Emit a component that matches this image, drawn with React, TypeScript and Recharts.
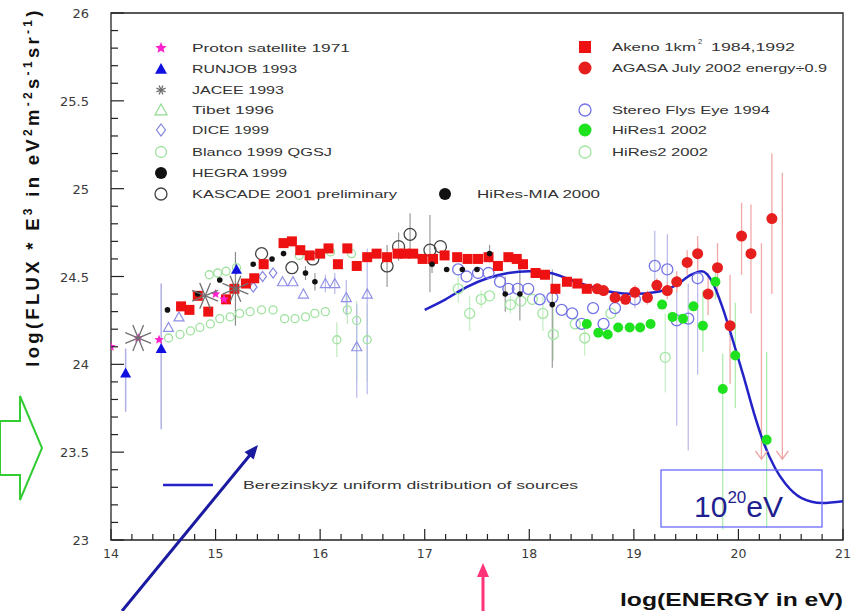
import React from 'react';
import { ComposedChart, Scatter, Line, XAxis, YAxis, ErrorBar, ReferenceArea } from 'recharts';

type Pt = { x: number; y: number; err?: [number, number] };

// Axis ticks (major ticks are labelled)
const xTicks = [14, 14.2, 14.4, 14.6, 14.8, 15, 15.2, 15.4, 15.6, 15.8, 16, 16.2, 16.4, 16.6, 16.8, 17, 17.2, 17.4, 17.6, 17.8, 18, 18.2, 18.4, 18.6, 18.8, 19, 19.2, 19.4, 19.6, 19.8, 20, 20.2, 20.4, 20.6, 20.8, 21];
const yTicks = [23, 23.1, 23.2, 23.3, 23.4, 23.5, 23.6, 23.7, 23.8, 23.9, 24, 24.1, 24.2, 24.3, 24.4, 24.5, 24.6, 24.7, 24.8, 24.9, 25, 25.1, 25.2, 25.3, 25.4, 25.5, 25.6, 25.7, 25.8, 25.9, 26];

// Measurements: log10(E/eV) vs log10(flux * E^3)
const proton: Pt[] = [
  { x: 14.0, y: 24.1 }, { x: 14.26, y: 24.15 }, { x: 14.46, y: 24.14 }, { x: 15.0, y: 24.4 }, { x: 15.08, y: 24.37 },
];
const runjob: Pt[] = [
  { x: 14.14, y: 23.95, err: [0.22, 0.14] }, { x: 14.48, y: 24.09, err: [0.46, 0.37] }, { x: 15.2, y: 24.54, err: [0.03, 0.03] },
];
const jacee: Pt[] = [
  { x: 14.26, y: 24.15 }, { x: 14.9, y: 24.39 }, { x: 15.19, y: 24.43, err: [0.21, 0.21] },
];
const tibet: Pt[] = [
  { x: 14.55, y: 24.21 }, { x: 14.65, y: 24.27 }, { x: 15.64, y: 24.47 }, { x: 15.74, y: 24.47 }, { x: 15.84, y: 24.4 },
  { x: 16.05, y: 24.46, err: [0.05, 0.05] }, { x: 16.14, y: 24.46, err: [0.06, 0.06] }, { x: 16.25, y: 24.38, err: [0.1, 0.1] },
  { x: 16.35, y: 24.1, err: [0.29, 0.24] }, { x: 16.45, y: 24.4, err: [0.57, 0.26] },
];
const dice: Pt[] = [
  { x: 15.36, y: 24.44 }, { x: 15.45, y: 24.5 }, { x: 15.55, y: 24.52 },
];
const blanco: Pt[] = [
  { x: 14.55, y: 24.15 }, { x: 14.66, y: 24.17 }, { x: 14.76, y: 24.19 }, { x: 14.85, y: 24.21 }, { x: 14.95, y: 24.23 },
  { x: 15.04, y: 24.26 }, { x: 15.14, y: 24.27 }, { x: 15.23, y: 24.29 }, { x: 15.33, y: 24.3 }, { x: 15.44, y: 24.31 },
  { x: 15.55, y: 24.31 }, { x: 15.66, y: 24.26 }, { x: 15.76, y: 24.26 }, { x: 15.86, y: 24.27 }, { x: 15.95, y: 24.29 },
  { x: 16.05, y: 24.3 }, { x: 16.16, y: 24.14, err: [0.1, 0.1] }, { x: 16.26, y: 24.31, err: [0.08, 0.08] },
  { x: 16.35, y: 24.25, err: [0.35, 0.11] }, { x: 16.45, y: 24.14, err: [0.24, 0.2] },
  { x: 14.94, y: 24.51 }, { x: 15.02, y: 24.52 }, { x: 15.1, y: 24.53 }, { x: 15.2, y: 24.55 },
  { x: 15.8, y: 24.62 }, { x: 16.1, y: 24.64 }, { x: 16.3, y: 24.63 },
];
const hegra: Pt[] = [
  { x: 14.54, y: 24.31 }, { x: 14.83, y: 24.4 }, { x: 15.04, y: 24.48 }, { x: 15.36, y: 24.57 }, { x: 15.54, y: 24.6 },
  { x: 15.65, y: 24.63 }, { x: 15.86, y: 24.52, err: [0.04, 0.04] }, { x: 15.95, y: 24.47, err: [0.05, 0.05] },
];
const kascade: Pt[] = [
  { x: 15.44, y: 24.63 }, { x: 15.73, y: 24.55 }, { x: 15.93, y: 24.6 }, { x: 16.64, y: 24.56, err: [0.12, 0.12] },
  { x: 16.75, y: 24.67, err: [0.08, 0.08] }, { x: 16.86, y: 24.74, err: [0.1, 0.12] }, { x: 17.05, y: 24.65, err: [0.24, 0.2] },
  { x: 17.15, y: 24.67 },
];
const hiresMia: Pt[] = [
  { x: 17.07, y: 24.57, err: [0.05, 0.05] }, { x: 17.21, y: 24.54 }, { x: 17.36, y: 24.54 }, { x: 17.5, y: 24.54 },
  { x: 17.62, y: 24.63, err: [0.05, 0.05] }, { x: 17.77, y: 24.4, err: [0.1, 0.1] }, { x: 17.91, y: 24.4, err: [0.15, 0.15] },
  { x: 18.22, y: 24.34, err: [0.36, 0.2] },
];
const akeno: Pt[] = [
  { x: 14.67, y: 24.33 }, { x: 14.75, y: 24.31 }, { x: 14.83, y: 24.39 }, { x: 14.93, y: 24.3 }, { x: 15.1, y: 24.37 },
  { x: 15.18, y: 24.43 }, { x: 15.29, y: 24.46 }, { x: 15.37, y: 24.49 }, { x: 15.46, y: 24.57 }, { x: 15.65, y: 24.69 },
  { x: 15.73, y: 24.7 }, { x: 15.81, y: 24.65 }, { x: 15.9, y: 24.62 }, { x: 16.0, y: 24.63 }, { x: 16.08, y: 24.66 },
  { x: 16.17, y: 24.57 }, { x: 16.26, y: 24.66 }, { x: 16.35, y: 24.56 }, { x: 16.45, y: 24.61 }, { x: 16.54, y: 24.63 },
  { x: 16.64, y: 24.61 }, { x: 16.74, y: 24.63 }, { x: 16.81, y: 24.63 }, { x: 16.89, y: 24.63 }, { x: 16.98, y: 24.6 },
  { x: 17.08, y: 24.6 }, { x: 17.19, y: 24.62 }, { x: 17.31, y: 24.61 }, { x: 17.41, y: 24.6 }, { x: 17.51, y: 24.6 },
  { x: 17.61, y: 24.61 }, { x: 17.7, y: 24.56 }, { x: 17.8, y: 24.61 }, { x: 17.88, y: 24.6 }, { x: 17.94, y: 24.57 },
  { x: 18.06, y: 24.52 }, { x: 18.15, y: 24.51 }, { x: 18.25, y: 24.43 }, { x: 18.36, y: 24.47 }, { x: 18.46, y: 24.46 },
  { x: 18.55, y: 24.43 },
];
const agasa: Pt[] = [
  { x: 18.65, y: 24.43, err: [0.03, 0.03] }, { x: 18.71, y: 24.42, err: [0.03, 0.03] }, { x: 18.82, y: 24.38, err: [0.03, 0.03] },
  { x: 18.92, y: 24.37, err: [0.03, 0.03] }, { x: 19.01, y: 24.41, err: [0.04, 0.04] }, { x: 19.13, y: 24.38, err: [0.04, 0.04] },
  { x: 19.22, y: 24.45, err: [0.04, 0.04] }, { x: 19.32, y: 24.42, err: [0.05, 0.05] }, { x: 19.41, y: 24.47, err: [0.06, 0.06] },
  { x: 19.51, y: 24.58, err: [0.07, 0.07] }, { x: 19.61, y: 24.63, err: [0.1, 0.1] }, { x: 19.71, y: 24.4, err: [0.12, 0.12] },
  { x: 19.8, y: 24.55, err: [0.17, 0.14] }, { x: 19.92, y: 24.22, err: [0.33, 0.29] }, { x: 20.03, y: 24.73, err: [0.22, 0.19] },
  { x: 20.12, y: 24.63, err: [0.34, 0.28] }, { x: 20.32, y: 24.83, err: [0.43, 0.37] },
];
// AGASA upper limits: point at the arrow tip, bar up to the limit
const agasaLimits: Pt[] = [
  { x: 20.22, y: 23.46, err: [0, 1.23] }, { x: 20.42, y: 23.46, err: [0, 1.63] },
];
const stereo: Pt[] = [
  { x: 17.32, y: 24.54 }, { x: 17.4, y: 24.5 }, { x: 17.51, y: 24.52 }, { x: 17.61, y: 24.52 }, { x: 17.72, y: 24.47 },
  { x: 17.8, y: 24.43 }, { x: 17.89, y: 24.43 }, { x: 17.99, y: 24.43 }, { x: 18.1, y: 24.37 }, { x: 18.22, y: 24.38 },
  { x: 18.31, y: 24.31 }, { x: 18.41, y: 24.29 }, { x: 18.5, y: 24.23 }, { x: 18.61, y: 24.32 }, { x: 18.71, y: 24.23 },
  { x: 18.82, y: 24.32 }, { x: 19.01, y: 24.37, err: [0.05, 0.05] }, { x: 19.2, y: 24.56, err: [0.15, 0.2] },
  { x: 19.32, y: 24.54, err: [0.15, 0.2] }, { x: 19.41, y: 24.25, err: [0.6, 0.25] }, { x: 19.52, y: 24.26, err: [0.75, 0.2] },
  { x: 19.61, y: 24.49, err: [0.55, 0.2] },
];
const hires1: Pt[] = [
  { x: 18.55, y: 24.23 }, { x: 18.66, y: 24.18 }, { x: 18.75, y: 24.17 }, { x: 18.85, y: 24.21 }, { x: 18.96, y: 24.21 },
  { x: 19.06, y: 24.21 }, { x: 19.16, y: 24.23 }, { x: 19.27, y: 24.34 }, { x: 19.37, y: 24.27 }, { x: 19.47, y: 24.26 },
  { x: 19.57, y: 24.33 }, { x: 19.66, y: 24.22, err: [0.15, 0.2] }, { x: 19.78, y: 24.47, err: [0.1, 0.1] },
  { x: 19.85, y: 23.86, err: [0.8, 0.2] }, { x: 19.97, y: 24.05, err: [0.3, 0.3] }, { x: 20.27, y: 23.57, err: [0.5, 0.5] },
];
const hires2: Pt[] = [
  { x: 17.32, y: 24.43, err: [0.08, 0.08] }, { x: 17.43, y: 24.29, err: [0.1, 0.1] }, { x: 17.54, y: 24.37, err: [0.05, 0.05] },
  { x: 17.62, y: 24.39 }, { x: 17.82, y: 24.34, err: [0.05, 0.05] }, { x: 17.92, y: 24.36 }, { x: 18.03, y: 24.37 },
  { x: 18.13, y: 24.29, err: [0.1, 0.1] }, { x: 18.23, y: 24.17, err: [0.15, 0.15] }, { x: 18.44, y: 24.23 },
  { x: 18.53, y: 24.15, err: [0.1, 0.1] }, { x: 18.78, y: 24.29 }, { x: 19.3, y: 24.04, err: [0.2, 0.25] },
];
// Berezinsky uniform-source model
const berezinsky: Pt[] = [
  { x: 17.0, y: 24.31 }, { x: 17.2, y: 24.37 }, { x: 17.4, y: 24.44 }, { x: 17.6, y: 24.49 }, { x: 17.8, y: 24.52 },
  { x: 18.0, y: 24.53 }, { x: 18.2, y: 24.52 }, { x: 18.4, y: 24.48 }, { x: 18.6, y: 24.44 }, { x: 18.8, y: 24.41 },
  { x: 19.0, y: 24.4 }, { x: 19.2, y: 24.41 }, { x: 19.4, y: 24.45 }, { x: 19.55, y: 24.51 }, { x: 19.65, y: 24.53 },
  { x: 19.75, y: 24.47 }, { x: 19.85, y: 24.32 }, { x: 19.95, y: 24.13 }, { x: 20.05, y: 23.93 }, { x: 20.15, y: 23.72 },
  { x: 20.25, y: 23.54 }, { x: 20.35, y: 23.41 }, { x: 20.45, y: 23.32 }, { x: 20.6, y: 23.24 }, { x: 20.8, y: 23.21 },
  { x: 21.0, y: 23.22 },
];

const C = {
  proton: '#ff22cc', runjob: '#1010e0', jacee: '#707070', tibet: '#8f8fe6', tibetKey: '#8fdc8f', dice: '#8080e0',
  blanco: '#9fe29f', hegra: '#111111', kascade: '#444444', mia: '#111111', akeno: '#ee1111', agasa: '#e61e1e',
  stereo: '#7373e6', hires1: '#1ee21e', hires2: '#a2e6a2', model: '#2323c8',
};

// Plot frame in page pixels
const FRAME = { left: 111, bottom: 540 };

type Kind = 'square' | 'dot' | 'ring' | 'tri' | 'otri' | 'diamond' | 'star' | 'aster' | 'vhead';

function Marker({ kind, cx, cy, s, color }: { kind: Kind; cx: number; cy: number; s: number; color: string }) {
  if (cx == null || cy == null || isNaN(cx) || isNaN(cy)) return null;
  switch (kind) {
    case 'square':
      return <rect x={cx - s} y={cy - s} width={2 * s} height={2 * s} fill={color} />;
    case 'dot':
      return <circle cx={cx} cy={cy} r={s} fill={color} />;
    case 'ring':
      return <circle cx={cx} cy={cy} r={s} fill="none" stroke={color} strokeWidth={1.3} />;
    case 'tri':
      return <polygon points={`${cx},${cy - s} ${cx - s},${cy + s * 0.8} ${cx + s},${cy + s * 0.8}`} fill={color} />;
    case 'otri':
      return <polygon points={`${cx},${cy - s} ${cx - s},${cy + s * 0.8} ${cx + s},${cy + s * 0.8}`} fill="none" stroke={color} strokeWidth={1.2} />;
    case 'diamond':
      return <polygon points={`${cx},${cy - s} ${cx + s * 0.75},${cy} ${cx},${cy + s} ${cx - s * 0.75},${cy}`} fill="none" stroke={color} strokeWidth={1.2} />;
    case 'star': {
      const pts: string[] = [];
      for (let i = 0; i < 10; i++) {
        const r = i % 2 === 0 ? s : s * 0.45;
        const a = -Math.PI / 2 + (i * Math.PI) / 5;
        pts.push(`${cx + r * Math.cos(a)},${cy + r * Math.sin(a)}`);
      }
      return <polygon points={pts.join(' ')} fill={color} />;
    }
    case 'aster': {
      const lines = [];
      for (let i = 0; i < 4; i++) {
        const a = (i * Math.PI) / 4 + Math.PI / 8;
        lines.push(
          <line key={i} x1={cx - s * Math.cos(a)} y1={cy - s * Math.sin(a)} x2={cx + s * Math.cos(a)} y2={cy + s * Math.sin(a)} stroke={color} strokeWidth={1.3} />,
        );
      }
      return <g>{lines}</g>;
    }
    case 'vhead':
      return <polyline points={`${cx - s},${cy - s * 1.4} ${cx},${cy} ${cx + s},${cy - s * 1.4}`} fill="none" stroke={color} strokeWidth={1.3} />;
  }
  return null;
}

const shape = (kind: Kind, s: number, color: string) => (p: any) => <Marker kind={kind} cx={p.cx} cy={p.cy} s={s} color={color} />;

// Ticks point into the frame; only major ticks carry a label
const XTick = (p: any) => {
  const v = p.payload.value as number;
  const major = Math.abs(v - Math.round(v)) < 1e-6;
  const y0 = FRAME.bottom;
  return (
    <g>
      <line x1={p.x} x2={p.x} y1={y0} y2={y0 - (major ? 11 : 6)} stroke="#222" strokeWidth={1.2} />
      {major && (
        <text x={p.x} y={y0 + 18} textAnchor="middle" fontFamily="DejaVu Sans" fontSize={12.5} fill="#3a3a3a">
          {String(v)}
        </text>
      )}
    </g>
  );
};

const YTick = (p: any) => {
  const v = p.payload.value as number;
  const major = Math.abs(v * 2 - Math.round(v * 2)) < 1e-6;
  const x0 = FRAME.left;
  return (
    <g>
      <line x1={x0} x2={x0 + (major ? 13 : 7)} y1={p.y} y2={p.y} stroke="#222" strokeWidth={1.2} />
      {major && (
        <text x={89} y={p.y + 5} textAnchor="end" fontFamily="DejaVu Sans" fontSize={13} fill="#3a3a3a">
          {String(v)}
        </text>
      )}
    </g>
  );
};

const legendFont = { fontFamily: 'Liberation Sans', fontSize: 11.5, fill: '#333' } as const;

const leftKeys: { kind: Kind; s: number; color: string; label: string; w: number; y: number }[] = [
  { kind: 'star', s: 6, color: C.proton, label: 'Proton satellite 1971', w: 158, y: 48 },
  { kind: 'tri', s: 6, color: C.runjob, label: 'RUNJOB 1993', w: 105, y: 69 },
  { kind: 'aster', s: 5, color: C.jacee, label: 'JACEE 1993', w: 92, y: 90 },
  { kind: 'otri', s: 6, color: C.tibetKey, label: 'Tibet 1996', w: 82, y: 110 },
  { kind: 'diamond', s: 6, color: C.dice, label: 'DICE 1999', w: 77, y: 130 },
  { kind: 'ring', s: 5.5, color: C.blanco, label: 'Blanco 1999 QGSJ', w: 140, y: 152 },
  { kind: 'dot', s: 6, color: C.hegra, label: 'HEGRA 1999', w: 95, y: 173 },
  { kind: 'ring', s: 6, color: C.kascade, label: 'KASCADE 2001 preliminary', w: 205, y: 194 },
];
const rightKeys: { kind: Kind; s: number; color: string; label: string; w: number; y: number }[] = [
  { kind: 'dot', s: 6.5, color: C.agasa, label: 'AGASA July 2002 energy÷0.9', w: 215, y: 68 },
  { kind: 'ring', s: 6, color: C.stereo, label: 'Stereo Flys Eye 1994', w: 158, y: 110 },
  { kind: 'dot', s: 6.5, color: C.hires1, label: 'HiRes1 2002', w: 95, y: 130 },
  { kind: 'ring', s: 6, color: C.hires2, label: 'HiRes2 2002', w: 96, y: 152 },
];

function Overlay() {
  return (
    <svg width={852} height={611} style={{ position: 'absolute', left: 0, top: 0, pointerEvents: 'none' }}>
      {leftKeys.map((k) => (
        <g key={k.label}>
          <Marker kind={k.kind} cx={161} cy={k.y} s={k.s} color={k.color} />
          <text x={192} y={k.y + 4} textLength={k.w} lengthAdjust="spacingAndGlyphs" {...legendFont}>{k.label}</text>
        </g>
      ))}
      <Marker kind="dot" cx={445} cy={194} s={6} color={C.mia} />
      <text x={477} y={198} textLength={123} lengthAdjust="spacingAndGlyphs" {...legendFont}>HiRes-MIA 2000</text>

      <Marker kind="square" cx={585} cy={47} s={6} color={C.akeno} />
      <text x={612} y={51} textLength={84} lengthAdjust="spacingAndGlyphs" {...legendFont}>Akeno 1km</text>
      <text x={698} y={44} fontFamily="Liberation Sans" fontSize={7.5} fill="#333">2</text>
      <text x={711} y={51} textLength={84} lengthAdjust="spacingAndGlyphs" {...legendFont}>1984,1992</text>
      {rightKeys.map((k) => (
        <g key={k.label}>
          <Marker kind={k.kind} cx={585} cy={k.y} s={k.s} color={k.color} />
          <text x={612} y={k.y + 4} textLength={k.w} lengthAdjust="spacingAndGlyphs" {...legendFont}>{k.label}</text>
        </g>
      ))}

      {/* model key */}
      <line x1={163} x2={213} y1={485} y2={485} stroke={C.model} strokeWidth={2.5} />
      <text x={243} y={489} textLength={335} lengthAdjust="spacingAndGlyphs" {...legendFont}>Berezinskyz uniform distribution of sources</text>

      {/* GZK energy box */}
      <rect x={661} y={470} width={161} height={57} fill="none" stroke="#6a6aff" strokeWidth={1.3} />
      <text x={694} y={517} fontFamily="Liberation Sans" fontSize={30} fill="#1f1f8f">
        10<tspan dy={-14} fontSize={17}>20</tspan><tspan dy={14}>eV</tspan>
      </text>

      {/* pointer arrows */}
      <line x1={122} y1={611} x2={250} y2={455} stroke="#1a1aa0" strokeWidth={3} />
      <polygon points="258,445 253.7,459.6 244.5,452" fill="#1a1aa0" />
      <line x1={483} y1={611} x2={483} y2={572} stroke="#ff3377" strokeWidth={3} />
      <polygon points="483,563 477,577 489,577" fill="#ff3377" />
      <polygon points="0,421 20,421 20,396 42,448 20,500 20,475 0,475" fill="none" stroke="#33cc33" strokeWidth={2} />

      {/* axis titles */}
      <text x={-187} y={39} transform="rotate(-90)" textAnchor="middle" fontFamily="Liberation Sans" fontWeight="bold" fontSize={18.5} fill="#111" letterSpacing={3.3}>
        log(FLUX * E<tspan dy={-7} fontSize={12}>3</tspan>
        <tspan dy={7}> in eV</tspan>
        <tspan dy={-7} fontSize={12}>2</tspan>
        <tspan dy={7}>m</tspan>
        <tspan dy={-7} fontSize={12}>-2</tspan>
        <tspan dy={7}>s</tspan>
        <tspan dy={-7} fontSize={12}>-1</tspan>
        <tspan dy={7}>sr</tspan>
        <tspan dy={-7} fontSize={12}>-1</tspan>
        <tspan dy={7}>)</tspan>
      </text>
      <text x={620} y={606} textLength={223} lengthAdjust="spacingAndGlyphs" fontFamily="Liberation Sans" fontWeight="bold" fontSize={19} fill="#111">
        log(ENERGY in eV)
      </text>
    </svg>
  );
}

export default function App() {
  return (
    <div style={{ position: 'absolute', left: 0, top: 0, width: 852, height: 611, background: '#fff' }}>
      <ComposedChart width={852} height={611} margin={{ top: 13, right: 9, bottom: 41, left: 51 }}>
        <XAxis dataKey="x" type="number" domain={[14, 21]} ticks={xTicks} interval={0} allowDataOverflow
          axisLine={false} tickLine={false} tickSize={0} tickMargin={0} height={30} tick={<XTick />} />
        <YAxis dataKey="y" type="number" domain={[23, 26]} ticks={yTicks} interval={0} allowDataOverflow
          axisLine={false} tickLine={false} tickSize={0} tickMargin={0} width={60} tick={<YTick />} />
        <ReferenceArea x1={14} x2={21} y1={23} y2={26} fill="none" stroke="#222" strokeWidth={1.3} ifOverflow="visible" />

        <Scatter data={blanco} shape={shape('ring', 4, C.blanco)} isAnimationActive={false}>
          <ErrorBar dataKey="err" direction="y" width={0} stroke="#bfe9bf" strokeWidth={1.2} />
        </Scatter>
        <Scatter data={tibet} shape={shape('otri', 5, C.tibet)} isAnimationActive={false}>
          <ErrorBar dataKey="err" direction="y" width={0} stroke="#b8b8ec" strokeWidth={1.2} />
        </Scatter>
        <Scatter data={dice} shape={shape('diamond', 5, C.dice)} isAnimationActive={false} />
        <Scatter data={hires2} shape={shape('ring', 5, C.hires2)} isAnimationActive={false}>
          <ErrorBar dataKey="err" direction="y" width={0} stroke="#c4efc4" strokeWidth={1.2} />
        </Scatter>
        <Scatter data={stereo} shape={shape('ring', 5.5, C.stereo)} isAnimationActive={false}>
          <ErrorBar dataKey="err" direction="y" width={0} stroke="#b8b8ec" strokeWidth={1.2} />
        </Scatter>
        <Scatter data={kascade} shape={shape('ring', 6, C.kascade)} isAnimationActive={false}>
          <ErrorBar dataKey="err" direction="y" width={0} stroke="#9a9a9a" strokeWidth={1.2} />
        </Scatter>
        <Scatter data={runjob} shape={shape('tri', 5.5, C.runjob)} isAnimationActive={false}>
          <ErrorBar dataKey="err" direction="y" width={0} stroke="#b0b0e4" strokeWidth={1.5} />
        </Scatter>
        <Scatter data={akeno} shape={shape('square', 5, C.akeno)} isAnimationActive={false} />
        <Scatter data={hegra} shape={shape('dot', 2.8, C.hegra)} isAnimationActive={false}>
          <ErrorBar dataKey="err" direction="y" width={0} stroke="#9a9a9a" strokeWidth={1.2} />
        </Scatter>
        <Scatter data={hiresMia} shape={shape('dot', 2.8, C.mia)} isAnimationActive={false}>
          <ErrorBar dataKey="err" direction="y" width={0} stroke="#9a9a9a" strokeWidth={1.2} />
        </Scatter>
        <Scatter data={proton} shape={shape('star', 5, C.proton)} isAnimationActive={false} />
        <Scatter data={jacee} shape={shape('aster', 14, C.jacee)} isAnimationActive={false}>
          <ErrorBar dataKey="err" direction="y" width={0} stroke="#8a8a8a" strokeWidth={1.2} />
        </Scatter>
        <Scatter data={agasaLimits} shape={shape('vhead', 6, '#f0a0a0')} isAnimationActive={false}>
          <ErrorBar dataKey="err" direction="y" width={0} stroke="#f0a8a8" strokeWidth={1.3} />
        </Scatter>
        <Scatter data={agasa} shape={shape('dot', 5.5, C.agasa)} isAnimationActive={false}>
          <ErrorBar dataKey="err" direction="y" width={0} stroke="#f2a8a8" strokeWidth={1.3} />
        </Scatter>
        <Scatter data={hires1} shape={shape('dot', 5, C.hires1)} isAnimationActive={false}>
          <ErrorBar dataKey="err" direction="y" width={0} stroke="#aeedae" strokeWidth={1.3} />
        </Scatter>
        <Line data={berezinsky} dataKey="y" type="monotone" stroke={C.model} strokeWidth={2.5} dot={false} isAnimationActive={false} />
      </ComposedChart>
      <Overlay />
    </div>
  );
}
